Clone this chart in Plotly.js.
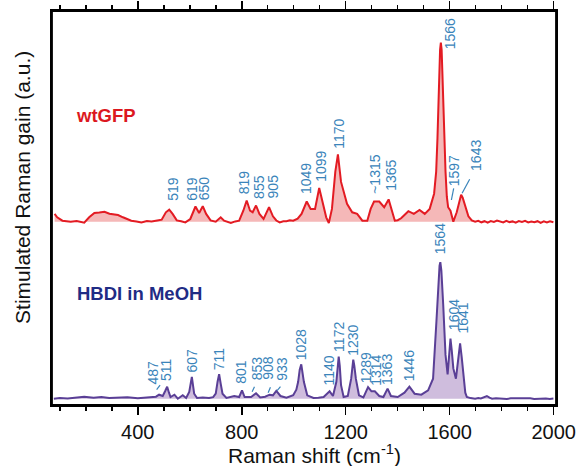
<!DOCTYPE html>
<html>
<head>
<meta charset="utf-8">
<script src="https://cdn.plot.ly/plotly-3.0.1.min.js"></script>
<style>html,body{margin:0;padding:0;background:#fff;}#chart{width:579px;height:466px;}</style>
</head>
<body>
<div id="chart"></div>
<script>
// ---- data: Raman shift (cm-1) and gain (a.u., relative to each trace baseline) ----
const wtX = [80, 90, 110, 142, 165, 194, 213, 233, 252, 272, 291, 310, 324, 343, 360, 375, 395, 414, 435, 453, 475, 492, 508, 521, 534, 550, 567, 583, 602, 622, 636, 650, 663, 680, 700, 719, 732, 745, 758, 775, 790, 806, 819, 832, 842, 855, 868, 884, 905, 920, 933, 946, 960, 972, 985, 998, 1015, 1030, 1050, 1065, 1082, 1098, 1112, 1125, 1135, 1147, 1160, 1170, 1182, 1192, 1205, 1225, 1244, 1264, 1283, 1296, 1309, 1329, 1348, 1365, 1377, 1389, 1400, 1413, 1427, 1441, 1462, 1484, 1504, 1523, 1540, 1548, 1553, 1560, 1563, 1566, 1569, 1572, 1578, 1584, 1589, 1594, 1603, 1614, 1627, 1636, 1644, 1650, 1657, 1672, 1685, 1698, 1710, 1722, 1734, 1746, 1758, 1770, 1782, 1794, 1806, 1818, 1830, 1842, 1854, 1866, 1878, 1890, 1902, 1914, 1926, 1938, 1950, 1962, 1974, 1986, 1999];
const wtY = [7.8, 4.4, 1.0, 0, 0.6, -1.0, 4.4, 8.8, 9.3, 10.0, 8.0, 7.2, 6.7, 4.4, 2.4, 1.0, 0.2, -0.7, 0.6, 0.2, 1.2, 2.0, 9.4, 12.0, 7.8, 1.3, 0.4, -0.7, 2.7, 15.2, 8.8, 15.5, 7.8, 1.3, 0, 4.4, 1.0, 0.2, -1.3, 0.3, 1.0, 11.0, 21.2, 11.0, 9.4, 16.2, 7.8, 2.7, 14.5, 5.4, 1.2, -0.7, 0.4, 0.5, 1.4, 1.0, 3.0, 7.8, 20.2, 12.8, 12.8, 33.7, 19.6, 4.4, -1.3, 12.8, 50, 67.4, 39.8, 29.7, 17.9, 9.4, 7.8, 1.0, 1.0, 12.8, 20.2, 20.2, 14.5, 22.3, 12.8, 1.0, 1.5, 3.4, 7.0, 10.5, 7.8, 11.8, 7.8, 12.8, 28, 50, 83.6, 150, 172, 179, 172, 148, 95, 50, 25, 14.5, 11, 0, 9.4, 19, 27, 24, 17.9, 5.4, 1.2, 0, 0.8, -0.6, 0.5, -0.9, 0.7, -0.2, 1.1, 0.1, -0.7, 0.9, -0.4, 0.3, -1.0, 0.6, -0.3, 0.8, -0.8, 0.2, -0.6, 0.5, -1.1, 0.3, -0.7, 0.4, -0.6];

const hbX = [77, 100, 130, 160, 194, 230, 260, 290, 324, 360, 400, 430, 453, 470, 482, 496, 506, 513, 520, 526, 541, 554, 573, 586, 598, 608, 617, 628, 650, 674, 690, 700, 707, 713, 719, 726, 741, 771, 790, 801, 811, 836, 855, 871, 890, 907, 920, 933, 949, 972, 998, 1010, 1017, 1023, 1029, 1034, 1039, 1052, 1076, 1095, 1115, 1138, 1151, 1164, 1169, 1173, 1177, 1182, 1192, 1208, 1221, 1226, 1229, 1233, 1239, 1251, 1268, 1286, 1299, 1312, 1329, 1345, 1361, 1374, 1400, 1426, 1445, 1465, 1491, 1517, 1536, 1549, 1556, 1561, 1564, 1568, 1575, 1584, 1592, 1598, 1603, 1608, 1614, 1624, 1634, 1640, 1646, 1653, 1660, 1666, 1680, 1698, 1710, 1720, 1732, 1743, 1753, 1763, 1778, 1790, 1805, 1820, 1835, 1850, 1865, 1880, 1895, 1910, 1925, 1940, 1955, 1970, 1985, 1999];
const hbY = [0, 0.8, 0.3, 1.2, 2.0, 1.0, 1.6, 0.6, 0.7, 1.4, 0.4, 1.0, 1.3, 2.0, 4.0, 2.7, 8.0, 12.0, 6.0, 1.7, 4.0, 0, 3.4, 0.7, 6.7, 21.9, 5.0, 0.7, 1.2, 0.7, 1.5, 5.0, 17.0, 24.6, 15.0, 5.0, 0.7, 2.7, 1.7, 8.4, 1.7, 1.7, 5.4, 1.3, 2.0, 4.0, 3.4, 7.8, 2.7, 1.0, 3.4, 9.0, 16.9, 29.0, 34.4, 27.0, 16.9, 3.4, 0.7, 1.0, 1.7, 7.4, 2.7, 16.9, 34.0, 42, 33.0, 13.5, 1.7, 2.7, 20, 33.0, 39, 33.0, 20, 3.4, 1.3, 11.5, 7.4, 7.4, 2.7, 1.7, 10.1, 2.7, 1.7, 6.0, 12.0, 5.0, 4.0, 8.4, 20, 77.5, 118, 133, 136.5, 128, 94.4, 43.8, 24.3, 40, 60, 48, 30.3, 20, 40, 55.3, 42, 20, 6, 1.7, 0.6, 0, 0.7, 0.3, 1.5, 2.7, 1.0, 0, 0.5, 0.4, -0.2, -0.3, 0.4, 0.5, -0.1, 0.0, 0.5, 0.4, -0.3, -0.2, 0.4, 0.3, -0.2, 0.2];

// peak labels (text)
const wtLabels = ['519', '619', '650', '819', '855', '905', '1049', '1099', '1170', '~1315', '1365', '1566', '1597', '1643'];
const hbLabels = ['487', '511', '607', '711', '801', '853', '908', '933', '1028', '1140', '1172', '1230', '1289', '1314', '1363', '1446', '1564', '1604', '1641'];

const xTickVals = [400, 800, 1200, 1600, 2000];
const xTickText = ['400', '800', '1200', '1600', '2000'];

// ---- layout / placement (not data) ----
const wtOffset = 183.3, hbOffset = 6.3;
const wtLabelPos = [[533, 203.5], [606, 203.5], [654, 203.5], [812, 209.6], [864, 205.5], [920, 205.5], [1050, 210.2], [1102, 222], [1173, 255], [1312, 210], [1374, 213.6], [1601, 355.2], [1616, 218], [1699, 233]];
const hbLabelPos = [[460, 19.8], [511.6, 23.2], [608.8, 31.6], [712.6, 33.3], [799.4, 19.8], [859, 23.8], [903, 23.8], [955, 23.2], [1027.6, 44.1], [1134, 18.1], [1173, 51.8], [1227, 48.5], [1279, 20.5], [1318, 18.1], [1361, 19.1], [1443, 23.2], [1564, 149.6], [1614, 73.7], [1653, 70.4]];
const leaders = [[1606.5, 205, 1615.4, 216.7], [1647.7, 211.7, 1676.9, 225.7], [472.7, 15.4, 485.8, 19.8], [840, 13.3, 849, 18.3], [901.5, 12.3, 910.4, 17.7], [936, 14.3, 949, 18.3]];

const FONT = 'Liberation Sans, Arial, Helvetica, sans-serif';
const LABEL_BLUE = '#3a84ba';

const wtAbs = wtY.map(v => v + wtOffset);
const hbAbs = hbY.map(v => v + hbOffset);

const traces = [
  {x: [wtX[0], wtX[wtX.length - 1]], y: [wtOffset, wtOffset], mode: 'lines', line: {width: 0}, hoverinfo: 'skip', showlegend: false},
  {x: wtX, y: wtAbs, mode: 'lines', fill: 'tonexty', fillcolor: '#f5b8b8', line: {color: '#e31b23', width: 2}, showlegend: false},
  {x: [hbX[0], hbX[hbX.length - 1]], y: [hbOffset, hbOffset], mode: 'lines', line: {width: 0}, hoverinfo: 'skip', showlegend: false},
  {x: hbX, y: hbAbs, mode: 'lines', fill: 'tonexty', fillcolor: '#cfbddd', line: {color: '#5a3f96', width: 2}, showlegend: false}
];

const annotations = [];
function addLabels(labels, pos) {
  labels.forEach((t, i) => {
    annotations.push({x: pos[i][0], y: pos[i][1], xref: 'x', yref: 'y', text: t, showarrow: false,
      textangle: -90, xanchor: 'center', yanchor: 'bottom', borderpad: 0,
      font: {family: FONT, size: 14, color: LABEL_BLUE}});
  });
}
addLabels(wtLabels, wtLabelPos);
addLabels(hbLabels, hbLabelPos);

annotations.push({x: 155, y: 289.5, xref: 'x', yref: 'y', text: '<b>wtGFP</b>', showarrow: false, xanchor: 'left', yanchor: 'middle',
  font: {family: FONT, size: 18.5, color: '#dc1820'}});
annotations.push({x: 157.7, y: 112, xref: 'x', yref: 'y', text: '<b>HBDI in MeOH</b>', showarrow: false, xanchor: 'left', yanchor: 'middle',
  font: {family: FONT, size: 18.5, color: '#1f2c85'}});
annotations.push({x: 0.52, y: -0.124, xref: 'paper', yref: 'paper', text: 'Raman shift (cm<sup>-1</sup>)', showarrow: false,
  xanchor: 'center', yanchor: 'middle', font: {family: FONT, size: 21, color: '#111'}});
annotations.push({x: -0.0575, y: 0.551, xref: 'paper', yref: 'paper', text: 'Stimulated Raman gain (a.u.)', showarrow: false,
  textangle: -90, xanchor: 'center', yanchor: 'middle', font: {family: FONT, size: 21, color: '#111'}});

const shapes = leaders.map(l => ({type: 'line', xref: 'x', yref: 'y', x0: l[0], y0: l[1], x1: l[2], y1: l[3],
  line: {color: LABEL_BLUE, width: 1.2}}));
// plot frame
shapes.push({type: 'line', xref: 'paper', yref: 'paper', x0: 0, x1: 0, y0: 0, y1: 1, layer: 'above', line: {color: '#000', width: 1.8}});
shapes.push({type: 'line', xref: 'paper', yref: 'paper', x0: 1, x1: 1, y0: 0, y1: 1, layer: 'above', line: {color: '#000', width: 1.8}});
shapes.push({type: 'line', xref: 'paper', yref: 'paper', x0: 0, x1: 1, y0: 1, y1: 1, layer: 'above', line: {color: '#000', width: 1.8}});
shapes.push({type: 'line', xref: 'paper', yref: 'paper', x0: 0, x1: 1, y0: 0, y1: 0, layer: 'above', line: {color: '#000', width: 1.8}});

const layout = {
  width: 579, height: 466,
  margin: {l: 52, r: 23, t: 11, b: 61, pad: 0},
  paper_bgcolor: '#fff', plot_bgcolor: '#fff',
  showlegend: false,
  font: {family: FONT, size: 20, color: '#111'},
  xaxis: {range: [70, 2009], tickvals: xTickVals, ticktext: xTickText, ticks: 'outside', ticklen: 8, tickwidth: 1.5,
    tickcolor: '#000', showline: true, linecolor: '#000', linewidth: 2, mirror: 'all', showgrid: false, zeroline: false,
    tickfont: {family: FONT, size: 20, color: '#111'},
    minor: {dtick: 100, tick0: 0, ticks: 'outside', ticklen: 4, tickwidth: 1.5, tickcolor: '#000', showgrid: false}},
  yaxis: {range: [0, 394], showticklabels: false, ticks: '', showline: true, linecolor: '#000', linewidth: 2, mirror: 'all',
    showgrid: false, zeroline: false},
  annotations: annotations,
  shapes: shapes
};

Plotly.newPlot('chart', traces, layout, {displayModeBar: false, staticPlot: true});
</script>
</body>
</html>
